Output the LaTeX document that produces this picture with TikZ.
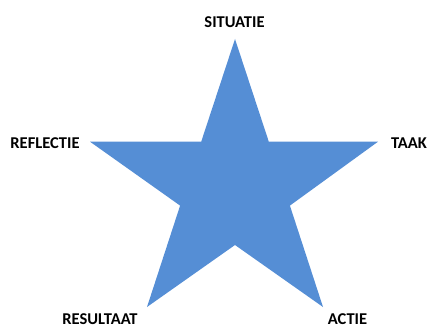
\documentclass[tikz,border=0pt]{standalone}
\usepackage{fontspec}
\setmainfont{Carlito}
\begin{document}
\begin{tikzpicture}[x=1pt,y=-1pt]
\definecolor{starblue}{RGB}{85,142,213}
\tikzset{lbl/.style={font=\fontsize{16.5}{18}\selectfont\bfseries, text=black, inner sep=0pt}}
\useasboundingbox (0,0) rectangle (430,329);
\coordinate (top) at (235,39);
\coordinate (itr) at (268.8,141.7);
\coordinate (rgt) at (378,141.7);
\coordinate (irb) at (289.9,205.6);
\coordinate (br) at (323,307);
\coordinate (ib) at (235,245);
\coordinate (bl) at (147,307);
\coordinate (ilb) at (180.1,205.6);
\coordinate (lft) at (90,141.7);
\coordinate (itl) at (201.2,141.7);
\fill[starblue] (top) -- (itr) -- (rgt) -- (irb) -- (br) -- (ib) -- (bl) -- (ilb) -- (lft) -- (itl) -- cycle;
\node[lbl] (s) at (234.5,22) {SITUATIE};
\node[lbl] (r) at (45,143) {REFLECTIE};
\node[lbl] (t) at (409,143) {TAAK};
\node[lbl] (res) at (100,319.5) {RESULTAAT};
\node[lbl] (a) at (347.5,319.5) {ACTIE};
\end{tikzpicture}
\end{document}
